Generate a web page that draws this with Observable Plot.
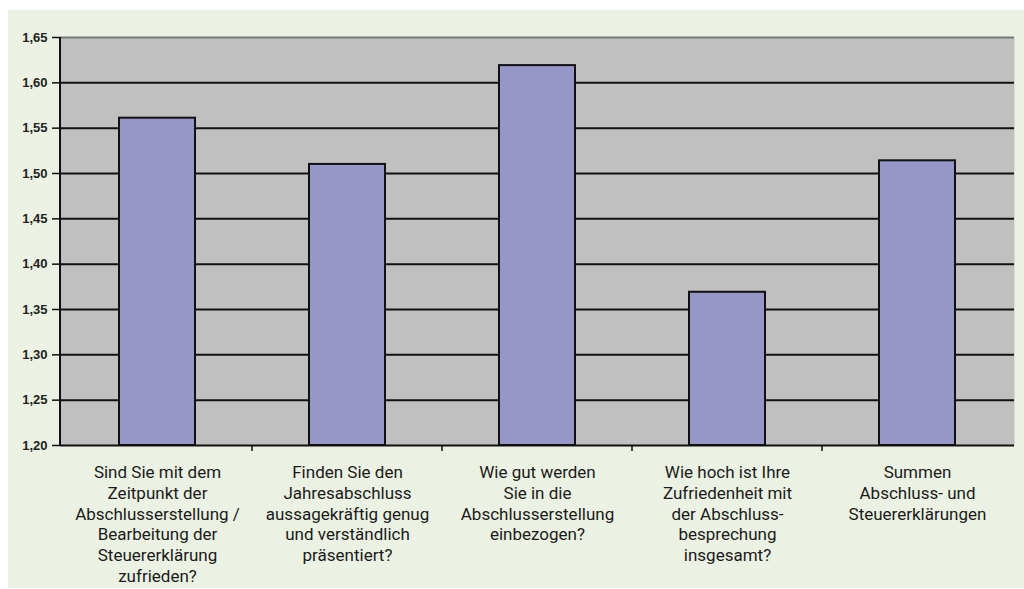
<!DOCTYPE html>
<html>
<head>
<meta charset="utf-8">
<script src="https://cdn.jsdelivr.net/npm/d3@7"></script>
<script src="https://cdn.jsdelivr.net/npm/@observablehq/plot@0.6"></script>
<style>
  html, body { margin: 0; padding: 0; background: #ffffff; }
  #wrap { position: relative; width: 1024px; height: 589px; overflow: hidden; }
  #panel { position: absolute; left: 8px; top: 10px; width: 1016px; height: 578px; background: #ecf2e3; }
  #chart { position: absolute; left: 0; top: 0; }
  #chart svg { background: transparent; overflow: visible; }
</style>
</head>
<body>
<div id="wrap">
  <div id="panel"></div>
  <div id="chart"></div>
</div>
<script>
const categories = [
  "Sind Sie mit dem\nZeitpunkt der\nAbschlusserstellung /\nBearbeitung der\nSteuererklärung\nzufrieden?",
  "Finden Sie den\nJahresabschluss\naussagekräftig genug\nund verständlich\npräsentiert?",
  "Wie gut werden\nSie in die\nAbschlusserstellung\neinbezogen?",
  "Wie hoch ist Ihre\nZufriedenheit mit\nder Abschluss-\nbesprechung\ninsgesamt?",
  "Summen\nAbschluss- und\nSteuererklärungen"
];
const values = [1.561, 1.510, 1.619, 1.369, 1.514];
const yDomain = [1.20, 1.65];
const yTicks = [1.20, 1.25, 1.30, 1.35, 1.40, 1.45, 1.50, 1.55, 1.60, 1.65];

const data = categories.map((c, i) => ({cat: c, value: values[i], base: yDomain[0]}));
const padIn = 0.6;
const padOut = 0.3;

// left axis line and tick marks at band boundaries below the x axis
function axisDecor(index, scales, values, dimensions) {
  const x = scales.x;
  const bw = typeof x.bandwidth === "function" ? x.bandwidth() : x.bandwidth;
  const step = typeof x.step === "function" ? x.step() : bw / (1 - padIn);
  const y0 = dimensions.height - dimensions.marginBottom;
  const yTop = dimensions.marginTop;
  const xl = dimensions.marginLeft;
  const g = d3.create("svg:g");
  g.append("line").attr("x1", xl).attr("x2", xl).attr("y1", yTop).attr("y2", y0 + 1)
    .attr("stroke", "#111").attr("stroke-width", 2);
  for (let i = 0; i < categories.length - 1; i++) {
    const px = x(categories[i]) + bw + (step - bw) / 2;
    g.append("line").attr("x1", px).attr("x2", px).attr("y1", y0).attr("y2", y0 + 6)
      .attr("stroke", "#111").attr("stroke-width", 1.5);
  }
  return g.node();
}

const chart = Plot.plot({
  width: 1024,
  height: 589,
  marginLeft: 60,
  marginRight: 10,
  marginTop: 37,
  marginBottom: 144,
  style: {background: "transparent"},
  x: {domain: categories, paddingInner: padIn, paddingOuter: padOut, label: null},
  y: {domain: yDomain, label: null},
  marks: [
    Plot.frame({fill: "#c0c0c0", stroke: null}),
    Plot.ruleY(yTicks.slice(1, -1), {stroke: "#111", strokeWidth: 2}),
    Plot.ruleY([yTicks[yTicks.length - 1]], {stroke: "#777", strokeWidth: 2}),
    Plot.barY(data, {x: "cat", y1: "base", y2: "value", fill: "#9696c8", stroke: "#111", strokeWidth: 2}),
    Plot.ruleY([yDomain[0]], {stroke: "#111", strokeWidth: 2}),
    Plot.axisY({
      ticks: yTicks,
      tickSize: 8,
      tickPadding: 5,
      tickFormat: d => d.toFixed(2).replace(".", ","),
      fontSize: 13,
      fontWeight: "bold",
      fontFamily: "Liberation Sans, Arial, sans-serif",
      stroke: "#111",
      strokeWidth: 1.5,
      fill: "#222",
      label: null
    }),
    Plot.axisX({
      tickSize: 0,
      tickPadding: 18,
      fontSize: 17,
      lineHeight: 1.22,
      fontFamily: "Roboto, sans-serif",
      fill: "#1a1a1a",
      label: null
    }),
    axisDecor
  ]
});
document.getElementById("chart").appendChild(chart);
</script>
</body>
</html>
